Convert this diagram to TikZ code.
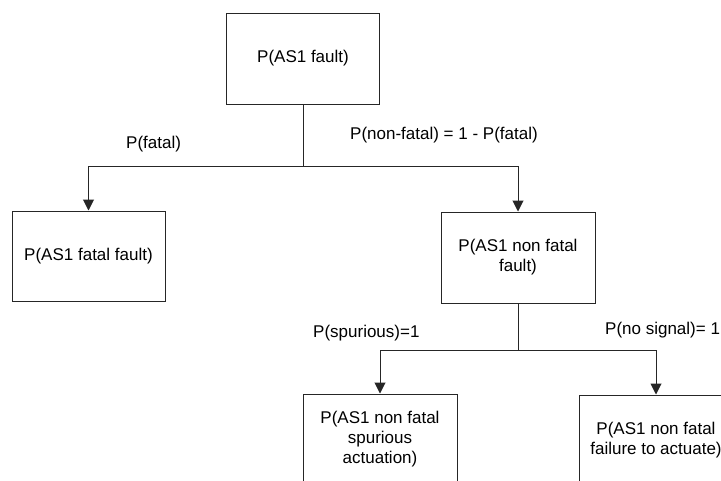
\documentclass[tikz,border=0pt]{standalone}
\usepackage{fontspec}
\setmainfont{Liberation Sans}
\usetikzlibrary{arrows.meta}
\begin{document}
\begin{tikzpicture}[x=1pt,y=-1pt,
  box/.style={draw=black!85, line width=1pt, minimum width=153pt, minimum height=91pt, inner sep=0pt, align=center, font=\fontsize{17}{20}\selectfont},
  lbl/.style={inner sep=0pt, anchor=west, font=\fontsize{17}{20}\selectfont},
  conn/.style={draw=black!85, line width=1pt},
  arr/.style={conn, -{Triangle[width=11pt,length=11pt]}}]
\useasboundingbox (0,0) rectangle (721,480);
\clip (0,0) rectangle (721,480);
\node[box] (top) at (303,58.5) {P(AS1 fault)};
\node[box, minimum height=90pt] (left) at (88.5,256) {P(AS1 fatal fault)};
\node[box, minimum width=154pt] (right) at (518,257.5) {P(AS1 non fatal\\fault)};
\node[box, minimum width=154pt] (bl) at (380,439.5) {P(AS1 non fatal\\spurious\\actuation)};
\node[box, minimum width=154pt] (br) at (656,440.5) {P(AS1 non fatal\\failure to actuate)};
\coordinate (j1) at (303,166);
\coordinate (j2) at (518,350);
\draw[conn] (top.south) -- (j1);
\draw[arr] (j1) -| (left.north);
\draw[arr] (j1) -| (right.north);
\draw[conn] (right.south) -- (j2);
\draw[arr] (j2) -| (bl.north);
\draw[arr] (j2) -| (br.north);
\node[lbl] (l1) at (126,144) {P(fatal)};
\node[lbl] (l2) at (350,135) {P(non-fatal) = 1 - P(fatal)};
\node[lbl] (l3) at (313,333) {P(spurious)=1};
\node[lbl] (l4) at (605,330) {P(no signal)= 1};
\end{tikzpicture}
\end{document}
